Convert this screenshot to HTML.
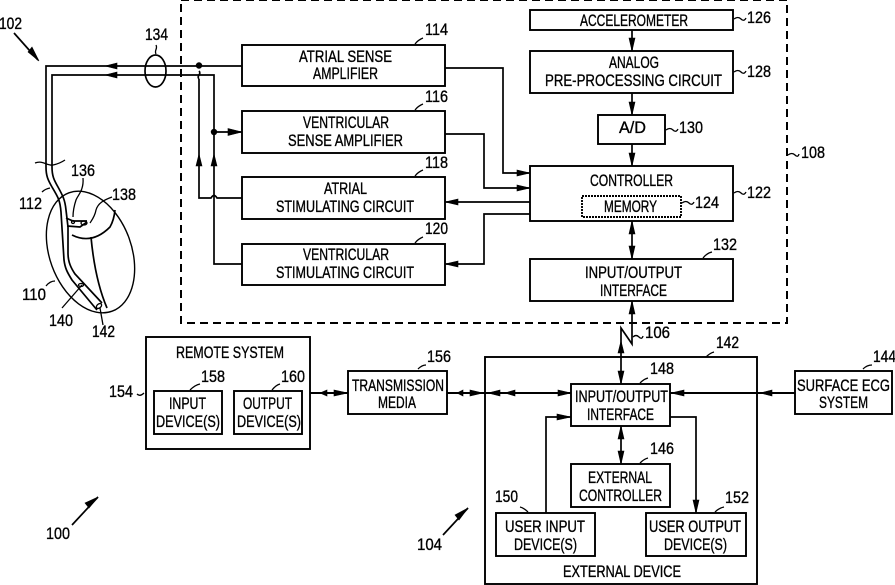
<!DOCTYPE html>
<html><head><meta charset="utf-8"><style>
html,body{margin:0;padding:0;background:#fff;width:895px;height:585px;overflow:hidden}
svg{display:block}
text{font-family:"Liberation Sans",sans-serif;font-size:16.5px;fill:#000;stroke:#000;stroke-width:.35}
.b{fill:none;stroke:#000;stroke-width:1.9}
.l{fill:none;stroke:#000;stroke-width:1.7}
.t{fill:none;stroke:#000;stroke-width:1.3}
polygon{fill:#000;stroke:#000;stroke-width:.6}
</style></head><body>
<svg width="895" height="585" viewBox="0 0 895 585" xmlns="http://www.w3.org/2000/svg">
<rect x="181" y="0" width="606" height="323" class="l" stroke-dasharray="8 5" style="stroke-width:2"/>

<!-- boxes -->
<rect x="242" y="45" width="203" height="41" class="b"/>
<rect x="242" y="111" width="203" height="42" class="b"/>
<rect x="242" y="177" width="203" height="42" class="b"/>
<rect x="242" y="244" width="203" height="41" class="b"/>
<rect x="530" y="10" width="203" height="20" class="b"/>
<rect x="530" y="51" width="203" height="42" class="b"/>
<rect x="598" y="115" width="67" height="29" class="b"/>
<rect x="530" y="166" width="203" height="55" class="b"/>
<rect x="582" y="196" width="99" height="21" class="b" stroke-dasharray="2 1"/>
<rect x="530" y="259" width="203" height="42" class="b"/>
<rect x="146" y="337" width="164" height="112" class="b"/>
<rect x="154" y="391" width="68" height="43" class="b"/>
<rect x="234" y="391" width="68" height="43" class="b"/>
<rect x="348" y="371" width="99" height="43" class="b"/>
<rect x="485" y="357" width="272" height="227" class="b"/>
<rect x="571" y="384" width="99" height="42" class="b"/>
<rect x="571" y="464" width="99" height="43" class="b"/>
<rect x="496" y="513" width="99" height="43" class="b"/>
<rect x="646" y="513" width="100" height="43" class="b"/>
<rect x="795" y="371" width="97" height="43" class="b"/>

<!-- leads -->
<path class="l" d="M242 66H46V167C46 176 48 180 52 187C58 197 60 200 61 212L64 260C65 268 67 272 72 280L97 310"/>
<path class="l" d="M199 75H52V167C52 176 54 180 58 187C63 196 65 200 66 210L68 227V253C68 262 71 268 75 274L102 303"/>
<path class="l" d="M199 75H214V264H242"/>
<path class="l" d="M199 79C196 76 202 74 199 71"/>
<path class="l" d="M199 79V198H211Q214 193 217 198H242"/>
<path class="l" d="M214 132H242"/>
<circle cx="199" cy="65.5" r="3.2" fill="#000"/>
<circle cx="214" cy="132" r="3.2" fill="#000"/>
<polygon points="242,132 228,128.5 228,135.500"/>
<polygon points="199,154 196,166 202,166"/>
<polygon points="214,154 211,166 217,166"/>
<polygon points="105,66 117,63 117,69"/>
<polygon points="105,75 117,72 117,78"/>
<ellipse cx="155.500" cy="71" rx="10.500" ry="16" class="l"/>
<path class="t" d="M156 54C154 50 158 49 156 45"/>

<!-- heart -->
<ellipse cx="90.500" cy="252" rx="41" ry="63" transform="rotate(-20 90.500 252)" class="l" style="stroke-width:1.4"/>
<path class="t" d="M35 163C43 160 47 166 53 165C58 164 62 162 65 160"/>
<path class="l" d="M72 235Q92 245 110 227Q114 220 115 210"/>
<path class="l" d="M91 237Q95 280 107 308"/>
<path class="l" d="M66 218L73 221L87 221M67 226L80 227L87 222"/>
<ellipse cx="84" cy="223" rx="3" ry="2" class="t"/>
<circle cx="73" cy="222" r="1.500" class="t"/>
<ellipse cx="99" cy="306" rx="3" ry="2" transform="rotate(-40 99 306)" class="t"/>
<ellipse cx="81" cy="285" rx="2.500" ry="1.500" class="t"/>
<path class="t" d="M83 178C84 190 78 195 76 200C74 206 73 212 73 217"/>
<path class="t" d="M112 197C104 200 98 203 96 210C95 216 92 220 90 223"/>
<path class="t" d="M42 192Q45 189 50 188"/>
<path class="t" d="M46 286Q50 281 55 281"/>
<path class="t" d="M62 308L82 285"/>
<path class="t" d="M100 308L103 325"/>

<!-- arrows top-left -->
<path class="l" d="M14 33L38 60"/>
<polygon points="39,61 28,52 32,47"/>
<path class="l" d="M72 525L98 497"/>
<polygon points="98,497 89,508 85,503"/>
<path class="l" d="M443 535L468 508"/>
<polygon points="468,508 459,520 455,515"/>

<!-- connectors mid -->
<path class="l" d="M445 68H503V173H530"/>
<polygon points="530,173 517,170 517,176"/>
<path class="l" d="M445 134H484V188H530"/>
<polygon points="530,188 517,185 517,191"/>
<path class="l" d="M530 202H445"/>
<polygon points="445,202 458,199 458,205"/>
<path class="l" d="M530 214H484V264H445"/>
<polygon points="445,264 458,261 458,267"/>

<path class="l" d="M632 30V51M632 93V115M632 144V166M632 221V259"/>
<polygon points="632,51 629,38 635,38"/>
<polygon points="632,115 629,102 635,102"/>
<polygon points="632,166 629,153 635,153"/>
<polygon points="632,221 629,234 635,234"/>
<polygon points="632,259 629,246 635,246"/>
<polygon points="632,301 629,314 635,314"/>
<path class="l" d="M632 301V344L621 328V384"/>
<polygon points="621,341 618,353 624,353"/>
<polygon points="621,384 618,371 624,371"/>

<!-- connectors bottom -->
<path class="l" d="M310 393H348" style="stroke-width:2"/>
<polygon points="320,393 327,390 327,396"/>
<polygon points="348,393 334,390 334,396"/>
<path class="l" d="M447 393H571" style="stroke-width:2"/>
<polygon points="457,393 463,390 463,396"/>
<polygon points="483,393 470,390 470,396"/>
<polygon points="488,393 500,390 500,396"/>
<polygon points="505,393 515,390 515,396"/>
<polygon points="571,393 558,390 558,396"/>
<path class="l" d="M670 393H795" style="stroke-width:2"/>
<polygon points="671,393 684,390 684,396"/>
<polygon points="760,393 772,390 772,396"/>
<path class="l" d="M546 513V417H571"/>
<polygon points="571,417 557,414 557,420"/>
<path class="l" d="M670 417H696V513"/>
<polygon points="696,513 693,500 699,500"/>
<path class="l" d="M621 426V464"/>
<polygon points="621,426 618,439 624,439"/>
<polygon points="621,464 618,451 624,451"/>

<!-- squiggles -->
<g>
<path class="t" d="M415 44Q418 40 423 38"/><path class="t" d="M415 110Q418 106 423 104"/>
<path class="t" d="M415 176Q418 172 423 170"/><path class="t" d="M415 243Q418 239 423 237"/>
<path class="t" d="M734 19Q738 16 741 19T746 18"/><path class="t" d="M734 72Q738 69 741 72T746 71"/>
<path class="t" d="M666 130Q670 127 673 130T678 129"/><path class="t" d="M734 193Q738 190 741 193T746 192"/>
<path class="t" d="M682 203Q686 200 689 203T694 202"/><path class="t" d="M703 258Q707 253 712 252"/>
<path class="t" d="M788 155Q792 152 795 155T799 154"/><path class="t" d="M633 337Q636 334 639 337T643 336"/>
<path class="t" d="M190 390Q195 385 200 384"/><path class="t" d="M272 390Q276 385 280 384"/>
<path class="t" d="M137 394Q140 397 144 393"/><path class="t" d="M418 369Q422 365 426 365"/>
<path class="t" d="M706 357Q710 353 714 352"/><path class="t" d="M863 369Q867 365 872 365"/>
<path class="t" d="M640 383Q644 379 648 378"/><path class="t" d="M640 463Q644 459 648 458"/>
<path class="t" d="M520 507Q524 508 528 512"/><path class="t" d="M715 512Q719 508 724 507"/>
</g>

<!-- block text -->
<text x="299" y="62" textLength="93" lengthAdjust="spacingAndGlyphs">ATRIAL SENSE</text>
<text x="313" y="79" textLength="65" lengthAdjust="spacingAndGlyphs">AMPLIFIER</text>
<text x="303" y="128" textLength="86" lengthAdjust="spacingAndGlyphs">VENTRICULAR</text>
<text x="288" y="146" textLength="115" lengthAdjust="spacingAndGlyphs">SENSE AMPLIFIER</text>
<text x="324" y="194" textLength="43" lengthAdjust="spacingAndGlyphs">ATRIAL</text>
<text x="276" y="212" textLength="138" lengthAdjust="spacingAndGlyphs">STIMULATING CIRCUIT</text>
<text x="303" y="260" textLength="86" lengthAdjust="spacingAndGlyphs">VENTRICULAR</text>
<text x="276" y="278" textLength="138" lengthAdjust="spacingAndGlyphs">STIMULATING CIRCUIT</text>
<text x="580" y="26" textLength="108" lengthAdjust="spacingAndGlyphs">ACCELEROMETER</text>
<text x="609" y="68" textLength="50" lengthAdjust="spacingAndGlyphs">ANALOG</text>
<text x="545" y="86" textLength="177" lengthAdjust="spacingAndGlyphs">PRE-PROCESSING CIRCUIT</text>
<text x="619" y="133" textLength="27" lengthAdjust="spacingAndGlyphs">A/D</text>
<text x="590" y="186" textLength="83" lengthAdjust="spacingAndGlyphs">CONTROLLER</text>
<text x="604" y="212" textLength="53" lengthAdjust="spacingAndGlyphs">MEMORY</text>
<text x="585" y="278" textLength="97" lengthAdjust="spacingAndGlyphs">INPUT/OUTPUT</text>
<text x="600" y="296" textLength="67" lengthAdjust="spacingAndGlyphs">INTERFACE</text>
<text x="176" y="358" textLength="108" lengthAdjust="spacingAndGlyphs">REMOTE SYSTEM</text>
<text x="169" y="409" textLength="37" lengthAdjust="spacingAndGlyphs">INPUT</text>
<text x="156" y="427" textLength="64" lengthAdjust="spacingAndGlyphs">DEVICE(S)</text>
<text x="243" y="409" textLength="49" lengthAdjust="spacingAndGlyphs">OUTPUT</text>
<text x="237" y="427" textLength="64" lengthAdjust="spacingAndGlyphs">DEVICE(S)</text>
<text x="352" y="391" textLength="92" lengthAdjust="spacingAndGlyphs">TRANSMISSION</text>
<text x="378" y="408" textLength="38" lengthAdjust="spacingAndGlyphs">MEDIA</text>
<text x="575" y="402" textLength="93" lengthAdjust="spacingAndGlyphs">INPUT/OUTPUT</text>
<text x="587" y="420" textLength="67" lengthAdjust="spacingAndGlyphs">INTERFACE</text>
<text x="588" y="483" textLength="64" lengthAdjust="spacingAndGlyphs">EXTERNAL</text>
<text x="579" y="501" textLength="83" lengthAdjust="spacingAndGlyphs">CONTROLLER</text>
<text x="505" y="532" textLength="80" lengthAdjust="spacingAndGlyphs">USER INPUT</text>
<text x="514" y="550" textLength="63" lengthAdjust="spacingAndGlyphs">DEVICE(S)</text>
<text x="649" y="532" textLength="92" lengthAdjust="spacingAndGlyphs">USER OUTPUT</text>
<text x="664" y="550" textLength="63" lengthAdjust="spacingAndGlyphs">DEVICE(S)</text>
<text x="797" y="391" textLength="93" lengthAdjust="spacingAndGlyphs">SURFACE ECG</text>
<text x="819" y="408" textLength="49" lengthAdjust="spacingAndGlyphs">SYSTEM</text>
<text x="563" y="577" textLength="118" lengthAdjust="spacingAndGlyphs">EXTERNAL DEVICE</text>

<!-- numbers -->
<text x="-1" y="29" textLength="23" lengthAdjust="spacingAndGlyphs">102</text>
<text x="145" y="40" textLength="23" lengthAdjust="spacingAndGlyphs">134</text>
<text x="71" y="176" textLength="24" lengthAdjust="spacingAndGlyphs">136</text>
<text x="112" y="200" textLength="24" lengthAdjust="spacingAndGlyphs">138</text>
<text x="19" y="209" textLength="23" lengthAdjust="spacingAndGlyphs">112</text>
<text x="22" y="300" textLength="24" lengthAdjust="spacingAndGlyphs">110</text>
<text x="49" y="326" textLength="24" lengthAdjust="spacingAndGlyphs">140</text>
<text x="92" y="337" textLength="23" lengthAdjust="spacingAndGlyphs">142</text>
<text x="425" y="35" textLength="23" lengthAdjust="spacingAndGlyphs">114</text>
<text x="425" y="102" textLength="23" lengthAdjust="spacingAndGlyphs">116</text>
<text x="425" y="168" textLength="23" lengthAdjust="spacingAndGlyphs">118</text>
<text x="425" y="234" textLength="23" lengthAdjust="spacingAndGlyphs">120</text>
<text x="747" y="23" textLength="24" lengthAdjust="spacingAndGlyphs">126</text>
<text x="747" y="77" textLength="24" lengthAdjust="spacingAndGlyphs">128</text>
<text x="679" y="133" textLength="24" lengthAdjust="spacingAndGlyphs">130</text>
<text x="747" y="198" textLength="24" lengthAdjust="spacingAndGlyphs">122</text>
<text x="695" y="208" textLength="24" lengthAdjust="spacingAndGlyphs">124</text>
<text x="713" y="250" textLength="24" lengthAdjust="spacingAndGlyphs">132</text>
<text x="801" y="158" textLength="24" lengthAdjust="spacingAndGlyphs">108</text>
<text x="645" y="338" textLength="25" lengthAdjust="spacingAndGlyphs">106</text>
<text x="109" y="397" textLength="24" lengthAdjust="spacingAndGlyphs">154</text>
<text x="201" y="382" textLength="24" lengthAdjust="spacingAndGlyphs">158</text>
<text x="281" y="382" textLength="24" lengthAdjust="spacingAndGlyphs">160</text>
<text x="427" y="362" textLength="24" lengthAdjust="spacingAndGlyphs">156</text>
<text x="716" y="348" textLength="23" lengthAdjust="spacingAndGlyphs">142</text>
<text x="873" y="362" textLength="23" lengthAdjust="spacingAndGlyphs">144</text>
<text x="650" y="374" textLength="24" lengthAdjust="spacingAndGlyphs">148</text>
<text x="650" y="454" textLength="24" lengthAdjust="spacingAndGlyphs">146</text>
<text x="495" y="502" textLength="23" lengthAdjust="spacingAndGlyphs">150</text>
<text x="725" y="503" textLength="24" lengthAdjust="spacingAndGlyphs">152</text>
<text x="46" y="539" textLength="24" lengthAdjust="spacingAndGlyphs">100</text>
<text x="417" y="550" textLength="25" lengthAdjust="spacingAndGlyphs">104</text>
</svg>
</body></html>
